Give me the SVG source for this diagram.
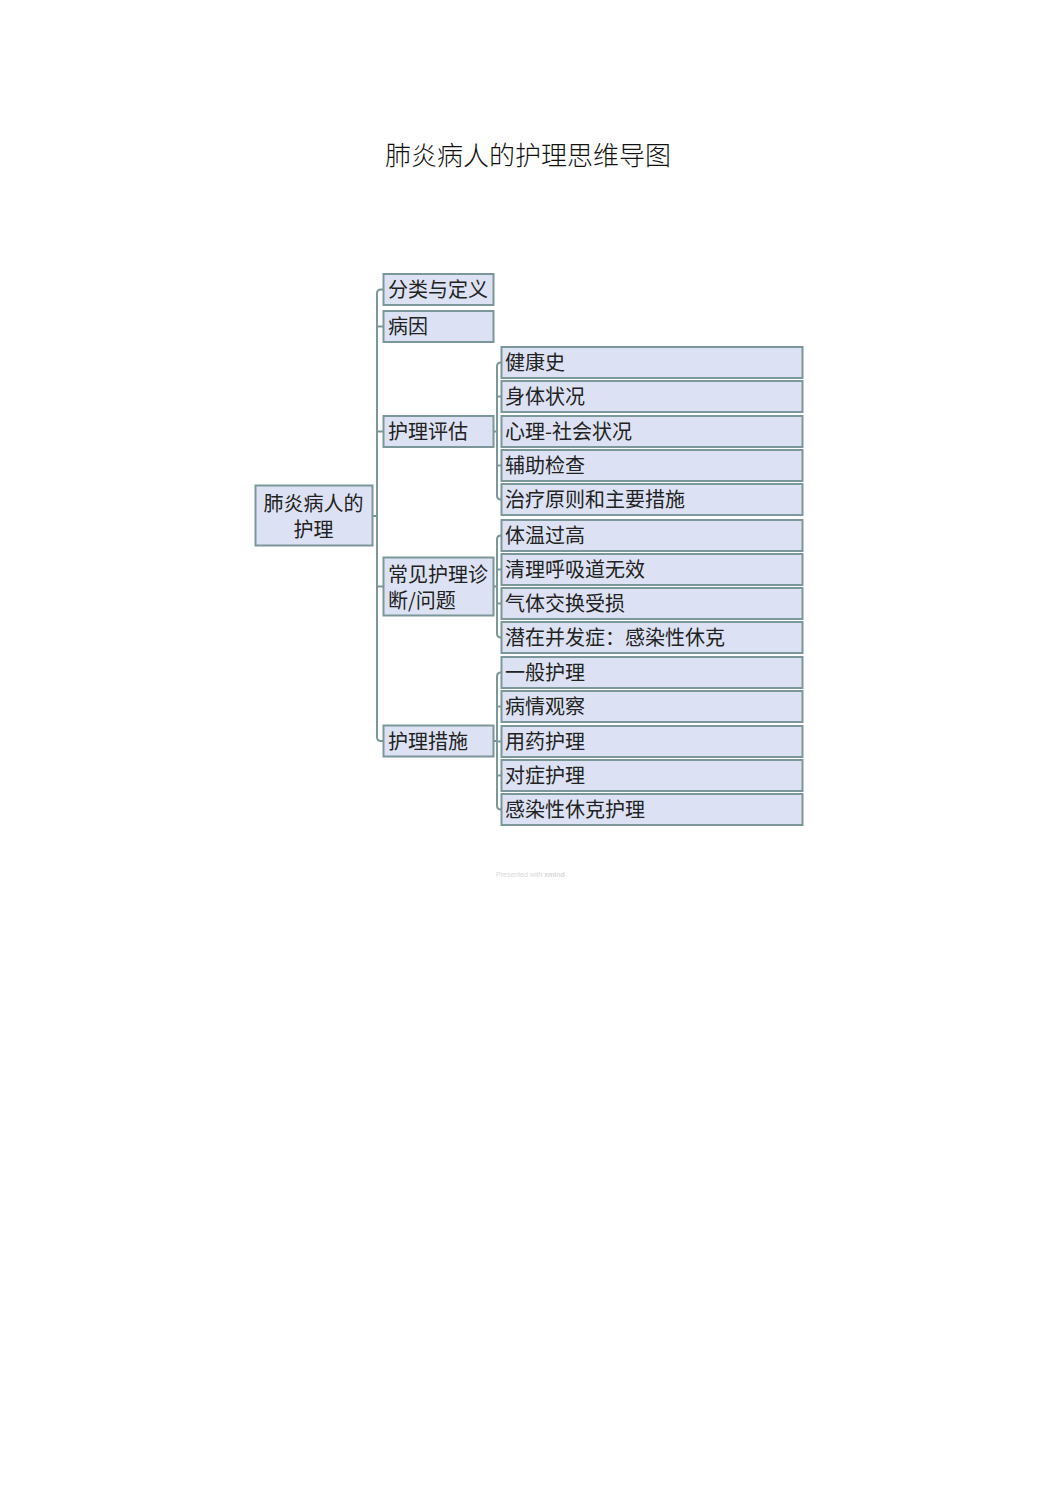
<svg xmlns="http://www.w3.org/2000/svg" width="1059" height="1497" viewBox="0 0 1059 1497">
<style>
.box{fill:#dce2f3;stroke:#7b9799;stroke-width:2}
.t{font-family:"Noto Sans CJK SC","Noto Sans",sans-serif;font-size:20px;fill:#222}
.c{fill:none;stroke:#7b9799;stroke-width:2}
</style>
<rect width="1059" height="1497" fill="#fff"/>
<text x="528" y="165" text-anchor="middle" style="font-family:'Noto Sans CJK SC',sans-serif;font-size:26px;font-weight:300;fill:#111">肺炎病人的护理思维导图</text>
<g id="connectors">
<path class="c" d="M372,516H377M383,289.5H381Q377,289.5 377,293.5V737Q377,741 381,741H383M377,326.5H383M377,431.5H383M377,586.5H383"/>
<path class="c" d="M493,431.5H497M502,362.5H501Q497,362.5 497,366.5V495.5Q497,499.5 501,499.5H502M497,396.5H502M497,465.5H502"/>
<path class="c" d="M494,586.5H497M502,535.5H501Q497,535.5 497,539.5V633.5Q497,637.5 501,637.5H502M497,569.5H502M497,603.5H502"/>
<path class="c" d="M493,741H497M502,672.5H501Q497,672.5 497,676.5V805.5Q497,809.5 501,809.5H502M497,706.5H502M497,741.5H502M497,775.5H502"/>
</g>
<g id="root"><rect class="box" x="255.5" y="485.5" width="117" height="60"/><text class="t" x="313.5" y="510.5" text-anchor="middle">肺炎病人的</text><text class="t" x="313.5" y="536.5" text-anchor="middle">护理</text></g>
<g id="n1"><rect class="box" x="383.5" y="274" width="110" height="31"/><text class="t" x="388" y="297">分类与定义</text></g>
<g id="n2"><rect class="box" x="383.5" y="311" width="110" height="31"/><text class="t" x="388" y="334">病因</text></g>
<g id="n3"><rect class="box" x="383.5" y="416" width="110" height="31"/><text class="t" x="388" y="439">护理评估</text></g>
<g id="n4"><rect class="box" x="383.5" y="557.5" width="110" height="58"/><text class="t" x="388" y="581.5">常见护理诊</text><text class="t" x="388" y="607.5">断/问题</text></g>
<g id="n5"><rect class="box" x="383.5" y="725.5" width="110" height="31"/><text class="t" x="388" y="748.5">护理措施</text></g>
<g id="a1"><rect class="box" x="501.5" y="347" width="301" height="31"/><text class="t" x="505" y="370">健康史</text></g>
<g id="a2"><rect class="box" x="501.5" y="381" width="301" height="31"/><text class="t" x="505" y="404">身体状况</text></g>
<g id="a3"><rect class="box" x="501.5" y="416" width="301" height="31"/><text class="t" x="505" y="439">心理-社会状况</text></g>
<g id="a4"><rect class="box" x="501.5" y="450" width="301" height="31"/><text class="t" x="505" y="473">辅助检查</text></g>
<g id="a5"><rect class="box" x="501.5" y="484" width="301" height="31"/><text class="t" x="505" y="507">治疗原则和主要措施</text></g>
<g id="b1"><rect class="box" x="501.5" y="520" width="301" height="31"/><text class="t" x="505" y="543">体温过高</text></g>
<g id="b2"><rect class="box" x="501.5" y="554" width="301" height="31"/><text class="t" x="505" y="577">清理呼吸道无效</text></g>
<g id="b3"><rect class="box" x="501.5" y="588" width="301" height="31"/><text class="t" x="505" y="611">气体交换受损</text></g>
<g id="b4"><rect class="box" x="501.5" y="622" width="301" height="31"/><text class="t" x="505" y="645">潜在并发症：感染性休克</text></g>
<g id="c1"><rect class="box" x="501.5" y="657" width="301" height="31"/><text class="t" x="505" y="680">一般护理</text></g>
<g id="c2"><rect class="box" x="501.5" y="691" width="301" height="31"/><text class="t" x="505" y="714">病情观察</text></g>
<g id="c3"><rect class="box" x="501.5" y="726" width="301" height="31"/><text class="t" x="505" y="749">用药护理</text></g>
<g id="c4"><rect class="box" x="501.5" y="760" width="301" height="31"/><text class="t" x="505" y="783">对症护理</text></g>
<g id="c5"><rect class="box" x="501.5" y="794" width="301" height="31"/><text class="t" x="505" y="817">感染性休克护理</text></g>
<text x="496" y="877" style="font-family:'Liberation Sans',sans-serif;font-size:7px;fill:#d8d8d8">Presented with <tspan font-weight="bold">xmind</tspan></text>
</svg>
